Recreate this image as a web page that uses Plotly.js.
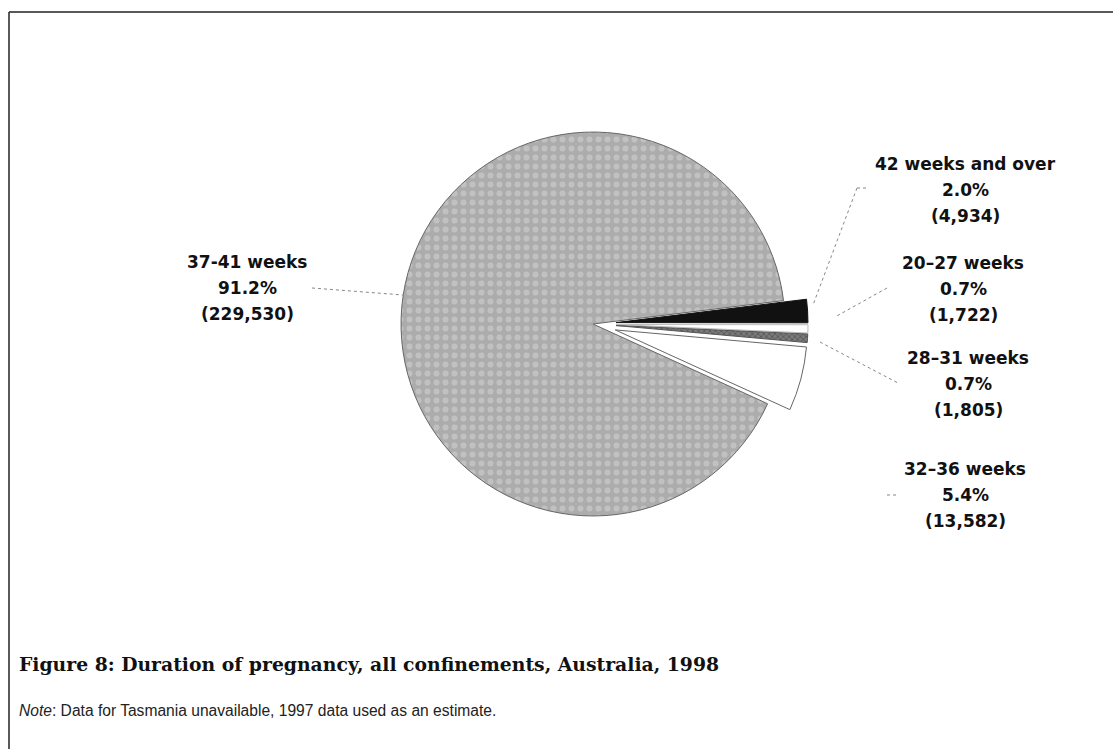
<!DOCTYPE html>
<html>
<head>
<meta charset="utf-8">
<script src="https://cdn.plot.ly/plotly-3.0.1.min.js"></script>
<style>
  body { margin: 0; background: #fff; }
  #pieDiv { width: 1113px; height: 749px; }
</style>
</head>
<body>
<div id="pieDiv"></div>
<script>
// Duration of pregnancy, all confinements, Australia, 1998
var labels = ["42 weeks and over", "20\u201327 weeks", "28\u201331 weeks", "32\u201336 weeks", "37-41 weeks"];
var counts = [4934, 1722, 1805, 13582, 229530];
var sliceColors = ["#111111", "#ffffff", "#7a7a7a", "#ffffff", "#acacac"];

var W = 1113, H = 749;
// pixel -> paper helpers
function px(x) { return x / W; }
function py(y) { return 1 - y / H; }

var total = counts.reduce(function (a, b) { return a + b; }, 0);
var pctText = counts.map(function (c) { return (c / total * 100).toFixed(1) + "%"; });
var countText = counts.map(function (c) { return "(" + c.toLocaleString("en-US") + ")"; });

var data = [{
    type: "pie",
    labels: labels,
    values: counts,
    sort: false,
    direction: "clockwise",
    rotation: 83,
    pull: [0.12, 0.12, 0.12, 0.12, 0],
    textinfo: "none",
    hoverinfo: "none",
    showlegend: false,
    domain: { x: [px(593 - 215), px(593 + 215)], y: [py(324 + 215), py(324 - 215)] },
    marker: {
        colors: sliceColors,
        line: { color: ["#111111", "#bbbbbb", "#555555", "#666666", "#666666"], width: [1, 1, 1, 1, 1] },
        pattern: {
            shape: ["", "", "x", "", "."],
            fgcolor: ["#111111", "#ffffff", "#333333", "#ffffff", "#d6d6d6"],
            size: [6, 6, 4, 6, 9],
            solidity: [0.3, 0.3, 0.4, 0.3, 0.35],
            fillmode: "overlay"
        }
    }
}];

// label block centres (pixels) for each slice, same order as labels
var labelX = [965, 963, 968, 965, 247];
var labelY = [190, 289, 384, 495, 288];

var annotations = [];
labels.forEach(function (lab, i) {
    var lines = [lab, pctText[i], countText[i]];
    lines.forEach(function (t, k) {
        annotations.push({
            xref: "paper", yref: "paper",
            x: px(labelX[i]), y: py(labelY[i] + (k - 1) * 26),
            text: "<b>" + t + "</b>", showarrow: false,
            xanchor: "center", yanchor: "middle",
            font: { family: "DejaVu Sans", size: 17, color: "#111" }
        });
    });
});

annotations.push({
    xref: "paper", yref: "paper", x: px(17), y: py(664),
    xanchor: "left", yanchor: "middle", showarrow: false,
    text: "<b>Figure 8: Duration of pregnancy, all confinements, Australia, 1998</b>",
    font: { family: "DejaVu Serif", size: 18.8, color: "#111" }
});
annotations.push({
    xref: "paper", yref: "paper", x: px(17), y: py(710),
    xanchor: "left", yanchor: "middle", showarrow: false,
    text: "<i>Note</i>: Data for Tasmania unavailable, 1997 data used as an estimate.",
    font: { family: "Liberation Sans", size: 15.6, color: "#222" }
});

// leader lines and page frame
var leader = { color: "#888888", width: 1, dash: "dot" };
var segs = [
    [312, 288, 403, 295],
    [857, 188, 813, 305],
    [857, 188, 867, 188],
    [887, 288, 835, 317],
    [820, 342, 898, 383],
    [887, 495, 897, 495]
];
var shapes = segs.map(function (s) {
    return { type: "line", xref: "paper", yref: "paper",
             x0: px(s[0]), y0: py(s[1]), x1: px(s[2]), y1: py(s[3]), line: leader };
});
shapes.push({ type: "line", xref: "paper", yref: "paper", x0: px(9), y0: py(12), x1: 1, y1: py(12),
              line: { color: "#222", width: 1.5 } });
shapes.push({ type: "line", xref: "paper", yref: "paper", x0: px(9), y0: py(12), x1: px(9), y1: 0,
              line: { color: "#222", width: 1.5 } });

var layout = {
    width: W, height: H,
    margin: { t: 0, b: 0, l: 0, r: 0 },
    paper_bgcolor: "#ffffff",
    annotations: annotations,
    shapes: shapes
};

Plotly.newPlot("pieDiv", data, layout, { displayModeBar: false, staticPlot: true });
</script>
</body>
</html>
